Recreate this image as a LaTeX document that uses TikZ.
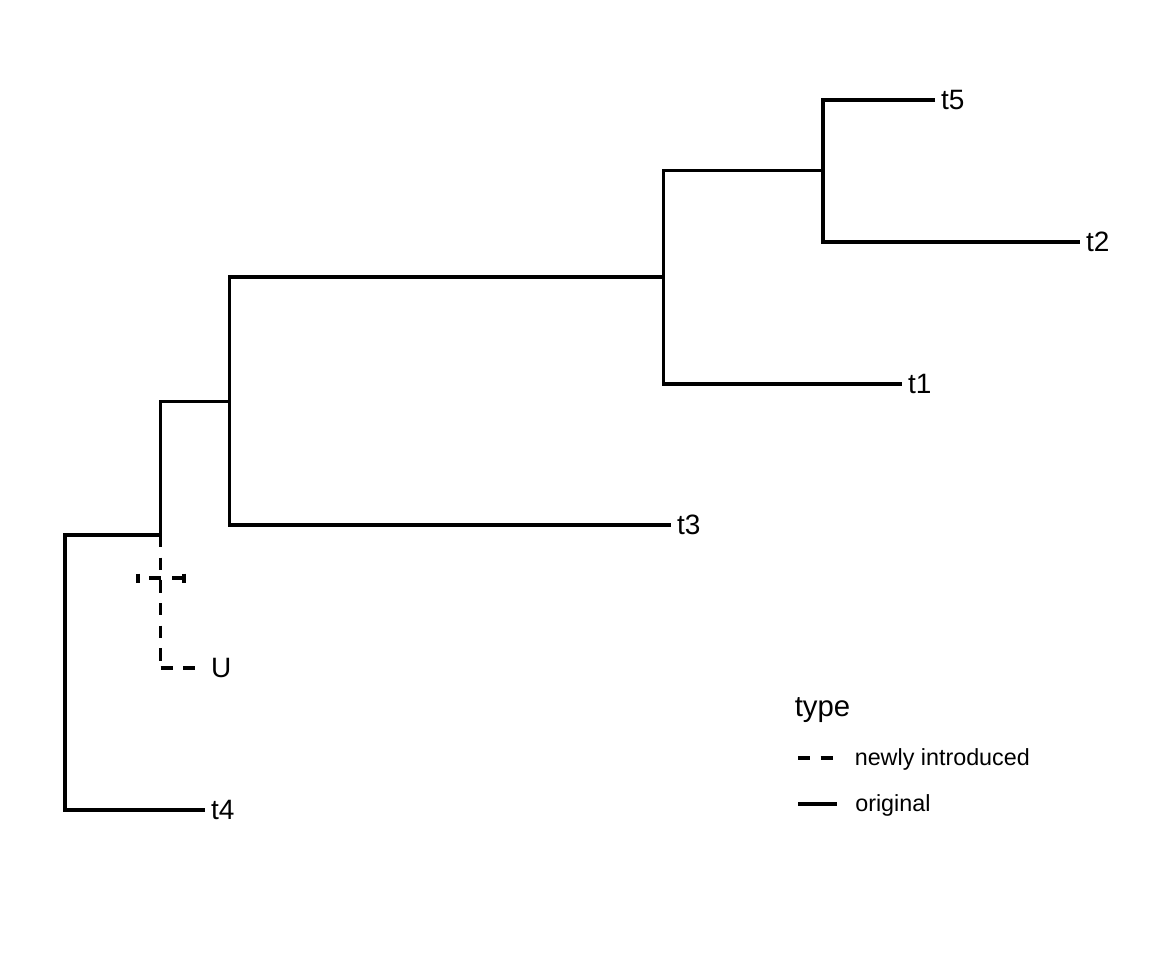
\documentclass[tikz,border=0pt]{standalone}
\usepackage{fontspec}
\setmainfont{Liberation Sans}
\usetikzlibrary{positioning}

\begin{document}
\begin{tikzpicture}[
    x=0.75pt, y=-0.75pt,
    branch/.style={line width=2.3pt},
    newbranch/.style={line width=2.3pt, dash pattern=on 9.2pt off 7.8pt},
    tip/.style={anchor=west, inner xsep=4.3pt, inner ysep=0pt, font=\fontsize{21}{25}\selectfont},
    legendtitle/.style={anchor=base west, inner sep=0pt, font=\fontsize{22}{26}\selectfont},
    legendlabel/.style={anchor=base west, inner sep=0pt, font=\fontsize{17.5}{21}\selectfont}
]
    \useasboundingbox (0,0) rectangle (1152,960);

    % Internal nodes
    \coordinate (root) at (65,672.5);
    \coordinate (n2) at (160.5,535);
    \coordinate (n3) at (229.5,401.5);
    \coordinate (n4) at (663.5,277);
    \coordinate (n5) at (823,170.5);

    % Tips
    \node[tip] (t5) at (935,100) {t5};
    \node[tip] (t2) at (1080,242) {t2};
    \node[tip] (t1) at (902,384) {t1};
    \node[tip] (t3) at (671,525) {t3};
    \node[tip] (t4) at (205,810) {t4};
    \node[tip] (U) at (205,668) {U};

    % Original branches
    \draw[branch] (n2) -| (root) |- (t4.west);
    \draw[branch] (n3) -| (n2);
    \draw[branch] (n4) -| (n3) |- (t3.west);
    \draw[branch] (n5) -| (n4) |- (t1.west);
    \draw[branch] (t5.west) -| (n5) |- (t2.west);

    % Newly introduced branch
    \coordinate (ucorner) at (160.5,668);
    \draw[newbranch] (n2) -- (ucorner);
    \draw[newbranch] (ucorner) -- (U.west);

    % Error bar
    \coordinate (barL) at (138,578);
    \coordinate (barR) at (184,578);
    \draw[newbranch] (barR) ++(0,-4.5) -- ++(0,9);
    \draw[newbranch] (barR) -- (barL);
    \draw[newbranch] (barL) ++(0,-4.5) -- ++(0,9);

    % Legend
    \node[legendtitle] (typetitle) at (794.5,716) {type};
    \coordinate (dashA) at (798,758);
    \coordinate (dashB) at (837,758);
    \coordinate (solidA) at (798,804);
    \coordinate (solidB) at (837,804);
    \draw[newbranch] (dashA) -- (dashB);
    \draw[branch] (solidA) -- (solidB);
    \node[legendlabel] (newlabel) at (854.5,765) {newly introduced};
    \node[legendlabel] (origlabel) at (855,811) {original};
\end{tikzpicture}
\end{document}
